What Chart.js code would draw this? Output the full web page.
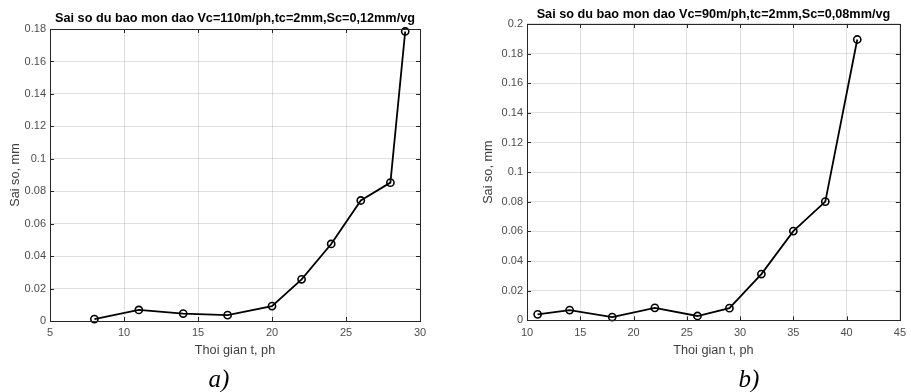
<!DOCTYPE html>
<html lang="vi">
<head>
  <meta charset="UTF-8">
  <title>Sai so du bao mon dao</title>
  <script src="https://cdn.jsdelivr.net/npm/chart.js"></script>
  <style>
    body {
      margin: 0;
      padding: 0;
      background: #fff;
      width: 911px;
      height: 392px;
      overflow: hidden;
      position: relative;
      font-family: 'Liberation Sans', Arial, sans-serif;
    }
    canvas { position: absolute; top: 0; }
    #chartA { left: 0; }
    #chartB { left: 455px; }
    .sub {
      position: absolute;
      font-family: 'Liberation Serif', 'Times New Roman', serif;
      font-style: italic;
      font-size: 25px;
      line-height: 25px;
      color: #000;
      transform: translate(-50%, -50%);
    }
  </style>
</head>
<body>

  <canvas id="chartA" width="455" height="392"></canvas>
  <canvas id="chartB" width="457" height="392"></canvas>
  <div class="sub" style="left:219px; top:378px;">a)</div>
  <div class="sub" style="left:749px; top:378px;">b)</div>

  <script>
    // so lieu doc tu hinh
    const timeA = [8, 11, 14, 17, 20, 22, 24, 26, 28, 29];
    const errA = [0.0012, 0.0068, 0.0046, 0.0036, 0.0092, 0.0257, 0.0475, 0.0743, 0.0853, 0.1785];
    const titleA = "Sai so du bao mon dao Vc=110m/ph,tc=2mm,Sc=0,12mm/vg";

    const timeB = [11, 14, 18, 22, 26, 29, 32, 35, 38, 41];
    const errB = [0.0040, 0.0069, 0.0022, 0.0084, 0.0029, 0.0082, 0.0312, 0.0602, 0.0801, 0.1895];
    const titleB = "Sai so du bao mon dao Vc=90m/ph,tc=2mm,Sc=0,08mm/vg";

    const xLabel = "Thoi gian t, ph";
    const yLabel = "Sai so, mm";

    // khung kieu MATLAB: vien 4 canh + vach chia huong vao trong
    const matlabBox = {
      id: "matlabBox",
      afterDraw(chart) {
        const { ctx, chartArea: a, scales } = chart;
        ctx.save();
        ctx.strokeStyle = "#262626";
        ctx.lineWidth = 1;
        ctx.beginPath();
        scales.x.ticks.forEach(t => {
          const px = Math.round(scales.x.getPixelForValue(t.value)) + 0.5;
          ctx.moveTo(px, a.bottom); ctx.lineTo(px, a.bottom - 4);
          ctx.moveTo(px, a.top); ctx.lineTo(px, a.top + 4);
        });
        scales.y.ticks.forEach(t => {
          const py = Math.round(scales.y.getPixelForValue(t.value)) + 0.5;
          ctx.moveTo(a.left, py); ctx.lineTo(a.left + 4, py);
          ctx.moveTo(a.right, py); ctx.lineTo(a.right - 4, py);
        });
        ctx.stroke();
        ctx.strokeRect(Math.round(a.left) + 0.5, Math.round(a.top) + 0.5,
          Math.round(a.right - a.left), Math.round(a.bottom - a.top));
        ctx.restore();
      }
    };

    function makeChart(id, xs, ys, title, cfg) {
      new Chart(document.getElementById(id), {
        type: "line",
        data: {
          datasets: [{
            data: xs.map((x, i) => ({ x: x, y: ys[i] })),
            borderColor: "#000",
            borderWidth: 1.8,
            pointRadius: 3.6,
            pointBorderWidth: 1.6,
            pointBorderColor: "#000",
            pointBackgroundColor: "rgba(0,0,0,0)",
            tension: 0,
            clip: false
          }]
        },
        options: {
          responsive: false,
          animation: false,
          devicePixelRatio: 1,
          layout: { padding: cfg.padding },
          plugins: {
            legend: { display: false },
            tooltip: { enabled: false },
            title: {
              display: true,
              fullSize: false,
              text: title,
              color: "#000",
              font: { family: "'Liberation Sans', Arial", size: 12.7, weight: "bold" },
              padding: { top: 0, bottom: cfg.titleGap }
            }
          },
          scales: {
            x: {
              type: "linear",
              min: cfg.xMin,
              max: cfg.xMax,
              afterFit: s => { s.height = 40; },
              ticks: {
                stepSize: 5,
                padding: cfg.xTickPad,
                color: "#4d4d4d",
                font: { family: "'Liberation Sans', Arial", size: 11 }
              },
              grid: { color: "rgba(0,0,0,0.12)", drawTicks: false },
              border: { display: false },
              title: {
                display: true,
                text: xLabel,
                color: "#404040",
                font: { family: "'Liberation Sans', Arial", size: 12.7 },
                padding: { top: 0, bottom: cfg.xTitleGap }
              }
            },
            y: {
              min: 0,
              max: cfg.yMax,
              afterFit: s => { s.width = cfg.yWidth; },
              ticks: {
                stepSize: 0.02,
                padding: 4,
                color: "#4d4d4d",
                font: { family: "'Liberation Sans', Arial", size: 11 },
                callback: v => String(+v.toFixed(2))
              },
              grid: { color: "rgba(0,0,0,0.12)", drawTicks: false },
              border: { display: false },
              title: {
                display: true,
                text: yLabel,
                color: "#404040",
                font: { family: "'Liberation Sans', Arial", size: 12.7 },
                padding: { top: cfg.yTitleGap, bottom: 0 }
              }
            }
          }
        },
        plugins: [matlabBox]
      });
    }

    makeChart("chartA", timeA, errA, titleA, {
      padding: { top: 10.4, right: 35, bottom: 31, left: 0 },
      titleGap: 3.4, xMin: 5, xMax: 30, yMax: 0.18,
      yWidth: 50, yTitleGap: 7.4, xTickPad: 5, xTitleGap: 2.7
    });

    makeChart("chartB", timeB, errB, titleB, {
      padding: { top: 6.7, right: 0, bottom: 31.7, left: 0 },
      titleGap: 2, xMin: 10, xMax: 45, yMax: 0.2,
      yWidth: 72, yTitleGap: 25.4, xTickPad: 6, xTitleGap: 2
    });
  </script>

</body>
</html>
